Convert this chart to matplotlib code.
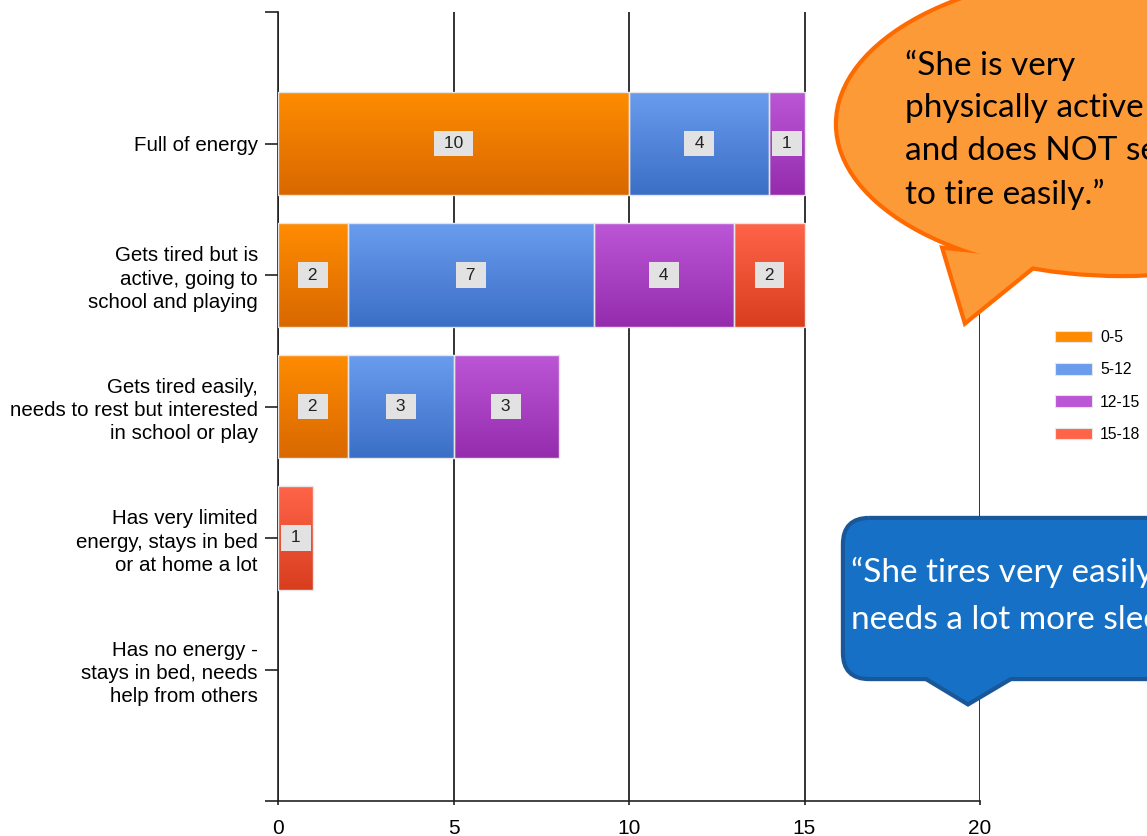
import numpy as np
import matplotlib
matplotlib.use("Agg")
import matplotlib.pyplot as plt
from matplotlib.patches import Ellipse, Polygon, FancyBboxPatch, Patch
from matplotlib.colors import LinearSegmentedColormap

# ---- data ----
categories = [
    "Full of energy",
    "Gets tired but is\nactive, going to\nschool and playing",
    "Gets tired easily,\nneeds to rest but interested\nin school or play",
    "Has very limited\nenergy, stays in bed\nor at home a lot",
    "Has no energy -\nstays in bed, needs\nhelp from others",
]
age_groups = ["0-5", "5-12", "12-15", "15-18"]
age_0_5 = [10, 2, 2, 0, 0]
age_5_12 = [4, 7, 3, 0, 0]
age_12_15 = [1, 4, 3, 0, 0]
age_15_18 = [0, 2, 0, 1, 0]
series = [age_0_5, age_5_12, age_12_15, age_15_18]
x_ticks = [0, 5, 10, 15, 20]

# gradient colours (top, bottom) per age group
grad = [("#ff8c00", "#d96800"),
        ("#6a9cee", "#3b6fc6"),
        ("#bb56d6", "#952cae"),
        ("#ff6449", "#d83e1e")]

W, H = 1147, 836
fig = plt.figure(figsize=(W / 100, H / 100), dpi=100)
fig.patch.set_facecolor("white")

ax = fig.add_axes([278 / W, 1 - 801 / H, (980 - 278) / W, (801 - 12) / H])
label_font = "Liberation Sans"

y = np.arange(len(categories))
left = np.zeros(len(categories))
bar_h = 0.79
for vals, (ctop, cbot) in zip(series, grad):
    vals = np.array(vals, dtype=float)
    bars = ax.barh(y, vals, left=left, height=bar_h, color=cbot,
                   linewidth=0, zorder=3)
    cmap = LinearSegmentedColormap.from_list("g", [ctop, cbot])
    for b, v in zip(bars, vals):
        if v <= 0:
            continue
        x0, y0, w, h = b.get_x(), b.get_y(), b.get_width(), b.get_height()
        img = ax.imshow(np.linspace(0, 1, 64).reshape(-1, 1), cmap=cmap,
                        extent=(x0, x0 + w, y0 + h, y0), aspect="auto",
                        origin="upper", zorder=3.5, interpolation="bilinear")
        img.set_clip_path(b)
        ax.add_patch(plt.Rectangle((x0, y0), w, h, fill=False,
                                   edgecolor="#e6e6e6", linewidth=1.0, zorder=4))
        ax.text(x0 + w / 2, y0 + h / 2, f" {int(v)} ", ha="center", va="center",
                fontsize=12.5, family=label_font, color="#222222", zorder=6,
                bbox=dict(boxstyle="square,pad=0.3", facecolor="#e2e2e2",
                          edgecolor="none"))
    left = left + vals

ax.set_xlim(0, 20)
ax.set_ylim(len(categories), -1)
ax.set_xticks(x_ticks)
ax.set_xticklabels([str(t) for t in x_ticks], family=label_font, fontsize=15)
ax.set_yticks([-1] + list(y) + [len(categories)])
ax.set_yticklabels([""] + categories + [""], family=label_font,
                   fontsize=14.8, linespacing=1.27)
ax.tick_params(axis="y", length=9.5, width=1.2, pad=5, color="#222222")
ax.tick_params(axis="x", length=3, width=1.2, pad=10, color="#222222")
ax.grid(axis="x", color="#111111", linewidth=1.2, zorder=0)
ax.set_axisbelow(True)
for s in ["top", "right"]:
    ax.spines[s].set_visible(False)
for s in ["left", "bottom"]:
    ax.spines[s].set_linewidth(1.2)
    ax.spines[s].set_color("#222222")

# legend
handles = [Patch(facecolor=c[0], edgecolor="#e6e6e6", linewidth=0.8) for c in grad]
fig.legend(handles, age_groups, loc="upper left",
           bbox_to_anchor=(1055 / W, 1 - 330 / H), frameon=False,
           prop=dict(family=label_font, size=11.3), handlelength=2.36,
           handleheight=0.76, labelspacing=1.1, handletextpad=0.5,
           borderpad=0, borderaxespad=0)

# speech bubbles overlay in pixel coordinates
ov = fig.add_axes([0, 0, 1, 1], zorder=10)
ov.set_xlim(0, W)
ov.set_ylim(H, 0)
ov.axis("off")
ov.patch.set_alpha(0)

quote_font = ["Lato", "DejaVu Sans"]

# orange bubble
o_fill, o_edge = "#fd9a38", "#ff6a00"
ell = dict(xy=(1122, 124), width=568, height=300)
tail = [(945, 250), (966, 320), (1040, 260)]
ov.add_patch(Ellipse(**ell, facecolor="none", edgecolor=o_edge, linewidth=6, zorder=1))
ov.add_patch(Polygon(tail, closed=True, facecolor="none", edgecolor=o_edge,
                     linewidth=6, joinstyle="miter", zorder=1))
ov.add_patch(Ellipse(**ell, facecolor=o_fill, edgecolor="none", zorder=2))
ov.add_patch(Polygon(tail, closed=True, facecolor=o_fill, edgecolor="none", zorder=2))
ov.text(905, 50, "\u201cShe is very\nphysically active\nand does NOT seem\nto tire easily.\u201d",
        ha="left", va="top", fontsize=24, family=quote_font, color="black",
        linespacing=1.51, zorder=3)

# blue bubble
b_fill, b_edge = "#1570c6", "#1a5799"
box = dict(xy=(845, 520), width=420, height=157)
btail = [(915, 670), (968, 702), (1022, 670)]
ov.add_patch(FancyBboxPatch(box["xy"], box["width"], box["height"],
                            boxstyle="round,pad=0,rounding_size=24",
                            facecolor="none", edgecolor=b_edge, linewidth=6, zorder=1))
ov.add_patch(Polygon(btail, closed=True, facecolor="none", edgecolor=b_edge,
                     linewidth=6, zorder=1))
ov.add_patch(FancyBboxPatch(box["xy"], box["width"], box["height"],
                            boxstyle="round,pad=0,rounding_size=24",
                            facecolor=b_fill, edgecolor="none", zorder=2))
ov.add_patch(Polygon(btail, closed=True, facecolor=b_fill, edgecolor="none", zorder=2))
ov.text(851, 557, "\u201cShe tires very easily,\nneeds a lot more sleep.\u201d",
        ha="left", va="top", fontsize=24, family=quote_font, color="white",
        linespacing=1.6, zorder=3)

fig.savefig("out.png", dpi=100)
